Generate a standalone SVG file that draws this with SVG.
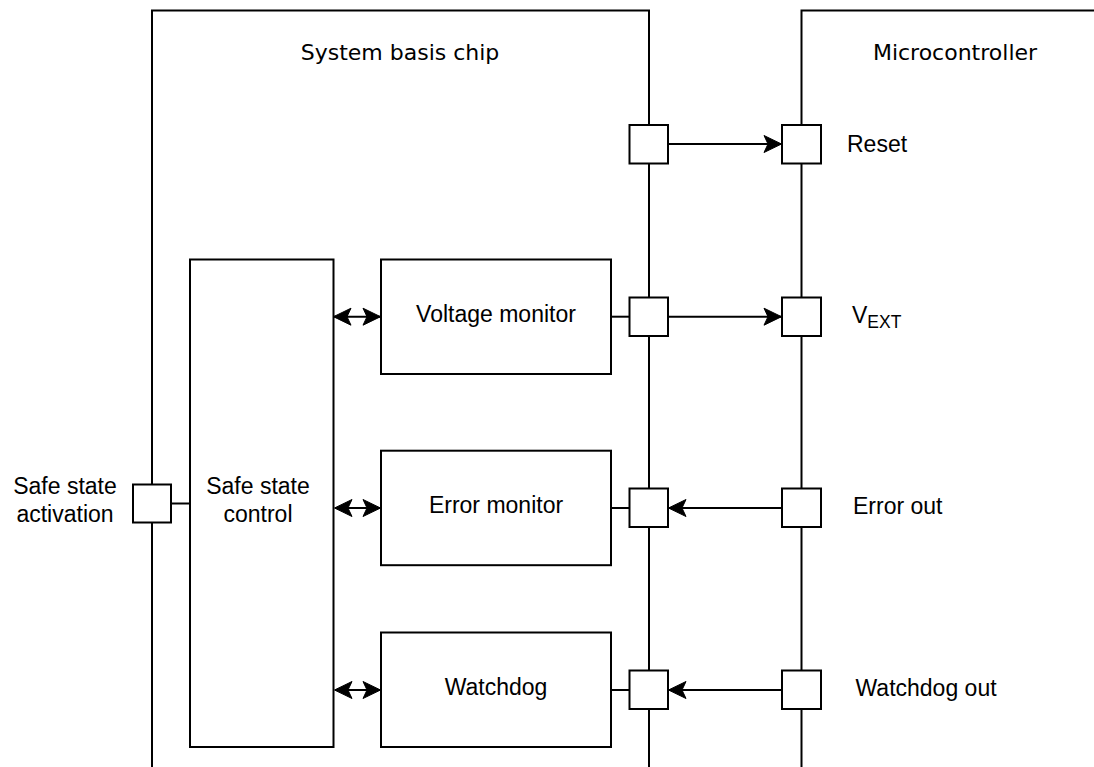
<svg xmlns="http://www.w3.org/2000/svg" width="1094" height="767" viewBox="0 0 1094 767">
  <style>
    .ln { fill: none; stroke: #000; stroke-width: 2; }
    .box { fill: #fff; stroke: #000; stroke-width: 2; }
    .pin { fill: #fff; stroke: #000; stroke-width: 2; }
    .lbl { font-family: "Liberation Sans", Arial, sans-serif; font-size: 23px; fill: #000; }
    .ttl { font-family: "DejaVu Sans", Verdana, sans-serif; font-size: 22px; fill: #000; }
    .mid { text-anchor: middle; }
  </style>
  <defs>
    <marker id="head" viewBox="-20 -10 21 20" markerWidth="21" markerHeight="20" refX="0" refY="0" orient="auto-start-reverse" markerUnits="userSpaceOnUse" overflow="visible">
      <path d="M0.5,0 L-17,-8.5 L-13,0 L-17,8.5 Z" fill="#000" stroke="#000" stroke-width="1" stroke-linejoin="miter"/>
    </marker>
  </defs>
  <rect width="1094" height="767" fill="#fff"/>

  <!-- chip outlines (open at the bottom / right) -->
  <g id="sbc">
    <path class="ln" d="M152,770 V10.5 H649 V770"/>
    <text class="ttl mid" x="400" y="60">System basis chip</text>
  </g>
  <g id="mcu">
    <path class="ln" d="M801.5,770 V10.5 H1100"/>
    <text class="ttl mid" x="955" y="60">Microcontroller</text>
  </g>

  <!-- connectors -->
  <g id="connectors">
    <line class="ln" x1="171" y1="503.5" x2="190" y2="503.5"/>
    <line class="ln" x1="611" y1="316.7" x2="629" y2="316.7"/>
    <line class="ln" x1="611" y1="508" x2="629" y2="508"/>
    <line class="ln" x1="611" y1="690" x2="629" y2="690"/>
    <line class="ln" x1="668" y1="144" x2="781" y2="144" marker-end="url(#head)"/>
    <line class="ln" x1="668" y1="316.7" x2="781" y2="316.7" marker-end="url(#head)"/>
    <line class="ln" x1="782" y1="508" x2="669" y2="508" marker-end="url(#head)"/>
    <line class="ln" x1="782" y1="690" x2="669" y2="690" marker-end="url(#head)"/>
    <line class="ln" x1="334" y1="316.7" x2="380" y2="316.7" marker-start="url(#head)" marker-end="url(#head)"/>
    <line class="ln" x1="335" y1="508" x2="380" y2="508" marker-start="url(#head)" marker-end="url(#head)"/>
    <line class="ln" x1="335" y1="690" x2="380" y2="690" marker-start="url(#head)" marker-end="url(#head)"/>
  </g>

  <!-- functional blocks -->
  <g id="safe-state-control">
    <rect class="box" x="190" y="259.5" width="143.5" height="487.5"/>
    <text class="lbl mid" x="258" y="494.3">Safe state</text>
    <text class="lbl mid" x="258" y="521.7">control</text>
  </g>
  <g id="voltage-monitor">
    <rect class="box" x="381" y="259.5" width="230" height="114.5"/>
    <text class="lbl mid" x="496" y="322">Voltage monitor</text>
  </g>
  <g id="error-monitor">
    <rect class="box" x="381" y="450.7" width="230" height="114.5"/>
    <text class="lbl mid" x="496" y="513.3">Error monitor</text>
  </g>
  <g id="watchdog">
    <rect class="box" x="381" y="632.5" width="230" height="114.5"/>
    <text class="lbl mid" x="496" y="695">Watchdog</text>
  </g>

  <!-- pins -->
  <g id="pin-safe-state">
    <rect class="pin" x="133" y="484.5" width="38" height="38"/>
    <text class="lbl mid" x="65" y="494.3">Safe state</text>
    <text class="lbl mid" x="65" y="522">activation</text>
  </g>
  <g id="pin-sbc-reset"><rect class="pin" x="629.5" y="125" width="38.5" height="38.5"/></g>
  <g id="pin-sbc-vext"><rect class="pin" x="629.5" y="297.5" width="38.5" height="38.5"/></g>
  <g id="pin-sbc-error"><rect class="pin" x="629.5" y="488.5" width="38.5" height="38.5"/></g>
  <g id="pin-sbc-watchdog"><rect class="pin" x="629.5" y="670.5" width="38.5" height="38.5"/></g>

  <g id="pin-mcu-reset">
    <rect class="pin" x="782" y="125" width="39" height="38.5"/>
    <text class="lbl" x="847" y="152">Reset</text>
  </g>
  <g id="pin-mcu-vext">
    <rect class="pin" x="782" y="297.5" width="39" height="38.5"/>
    <text class="lbl" x="852" y="323.3">V<tspan font-size="17.5" dy="5">EXT</tspan></text>
  </g>
  <g id="pin-mcu-error">
    <rect class="pin" x="782" y="488.5" width="39" height="38.5"/>
    <text class="lbl" x="853" y="514.3">Error out</text>
  </g>
  <g id="pin-mcu-watchdog">
    <rect class="pin" x="782" y="670.5" width="39" height="38.5"/>
    <text class="lbl" x="855.5" y="695.7">Watchdog out</text>
  </g>
</svg>
